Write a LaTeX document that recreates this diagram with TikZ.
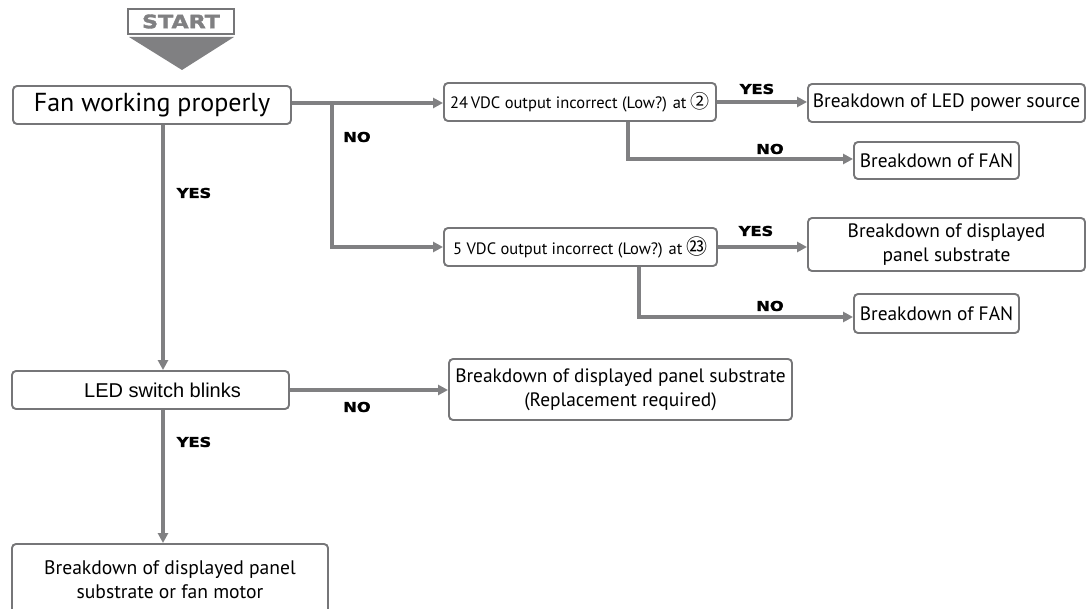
\documentclass[tikz,border=0pt]{standalone}
\usepackage{fontspec}
\setmainfont{PT Sans}
\newfontfamily\arialfont{Liberation Sans}
\newfontfamily\lblfont[FakeStretch=1.2,FakeBold=2]{DejaVu Sans}
\newfontfamily\cjk{Noto Sans CJK SC}
\usetikzlibrary{arrows.meta,calc}
\definecolor{lngray}{RGB}{128,128,130}
\definecolor{bxgray}{RGB}{118,118,120}

\begin{document}
\begin{tikzpicture}[x=1pt,y=-1pt,
  box/.style={draw=bxgray,line width=1.9pt,rounded corners=4pt,fill=white,align=center,inner sep=2pt},
  arr/.style={draw=lngray,line width=3.4pt,-{Triangle[length=10pt,width=10pt]}},
  lbl/.style={font=\lblfont\bfseries\fontsize{13.5}{13.5}\selectfont}]
  \useasboundingbox (0,0) rectangle (1086,609);
  % start marker
  \node[draw=bxgray,line width=1.9pt,minimum width=106pt,minimum height=25pt,inner sep=0pt,text=lngray,font=\lblfont\bfseries\fontsize{18.5}{18.5}\selectfont] (start) at (181,21.5) {START};
  \fill[lngray] (129,37) -- (234,37) -- (182,70) -- cycle;
  % decision boxes
  \node[box,minimum width=278pt,minimum height=38pt,font=\fontsize{26}{26}\selectfont] (fan) at (152,105) {Fan working properly};
  \node[box,minimum width=272pt,minimum height=38pt,font=\fontsize{16.5}{16.5}\selectfont] (v24) at (580,102) {24\,VDC output incorrect (Low?) at {\cjk\fontsize{19}{19}\selectfont ②}};
  \node[box,minimum width=273pt,minimum height=38pt,font=\fontsize{16.5}{16.5}\selectfont] (v5) at (580.5,247) {5 VDC output incorrect (Low?) at {\cjk\fontsize{21}{21}\selectfont ㉓}};
  \node[box,minimum width=277pt,minimum height=38pt,font=\arialfont\fontsize{20}{20}\selectfont] (led) at (150.5,390) {\hspace*{24pt}LED switch blinks};
  % result boxes
  \node[box,minimum width=277pt,minimum height=38pt,font=\fontsize{19.4}{19.4}\selectfont] (ledpsu) at (946.5,103) {Breakdown of LED power source};
  \node[box,minimum width=165pt,minimum height=37pt,font=\fontsize{19.4}{19.4}\selectfont] (fan1) at (936.5,160.5) {Breakdown of FAN};
  \node[box,minimum width=277pt,minimum height=53pt,font=\fontsize{19.4}{24}\selectfont] (panel) at (946.5,244.5) {Breakdown of displayed\\panel substrate};
  \node[box,minimum width=165pt,minimum height=39pt,font=\fontsize{19.4}{19.4}\selectfont] (fan2) at (936.5,313.5) {Breakdown of FAN};
  \node[box,minimum width=343pt,minimum height=61pt,font=\fontsize{19.4}{24}\selectfont] (panelrep) at (620.5,389.5) {Breakdown of displayed panel substrate\\(Replacement required)};
  \node[box,minimum width=316pt,minimum height=72pt,font=\fontsize{19.6}{24}\selectfont] (final) at (170,580) {Breakdown of displayed panel\\substrate or fan motor};
  % junctions
  \coordinate (j0) at (332,103);
  \coordinate (j1) at (628,159);
  \coordinate (j2) at (639,317);
  % connectors
  \draw[arr] (fan.east |- j0) -- (v24.west |- j0);
  \draw[arr] (j0) |- (v5.west);
  \draw[arr] (v24.east) -- (ledpsu.west |- v24.east);
  \draw[arr] (v24.south -| j1) |- (fan1.west |- j1);
  \draw[arr] (v5.east) -- (panel.west |- v5.east);
  \draw[arr] (v5.south -| j2) |- (fan2.west |- j2);
  \draw[arr] (fan.south -| 163,0) -- (led.north -| 163,0);
  \draw[arr] (led.east) -- (panelrep.west |- led.east);
  \draw[arr] (led.south -| 163,0) -- (final.north -| 163,0);
  % branch labels
  \node[lbl] (no0) at (357,137) {NO};
  \node[lbl] (yes0) at (194,193) {YES};
  \node[lbl] (yes1) at (757,89) {YES};
  \node[lbl] (no1) at (770,149) {NO};
  \node[lbl] (yes2) at (756,231) {YES};
  \node[lbl] (no2) at (770,306) {NO};
  \node[lbl] (no3) at (357,407) {NO};
  \node[lbl] (yes3) at (194,442) {YES};
\end{tikzpicture}
\end{document}
